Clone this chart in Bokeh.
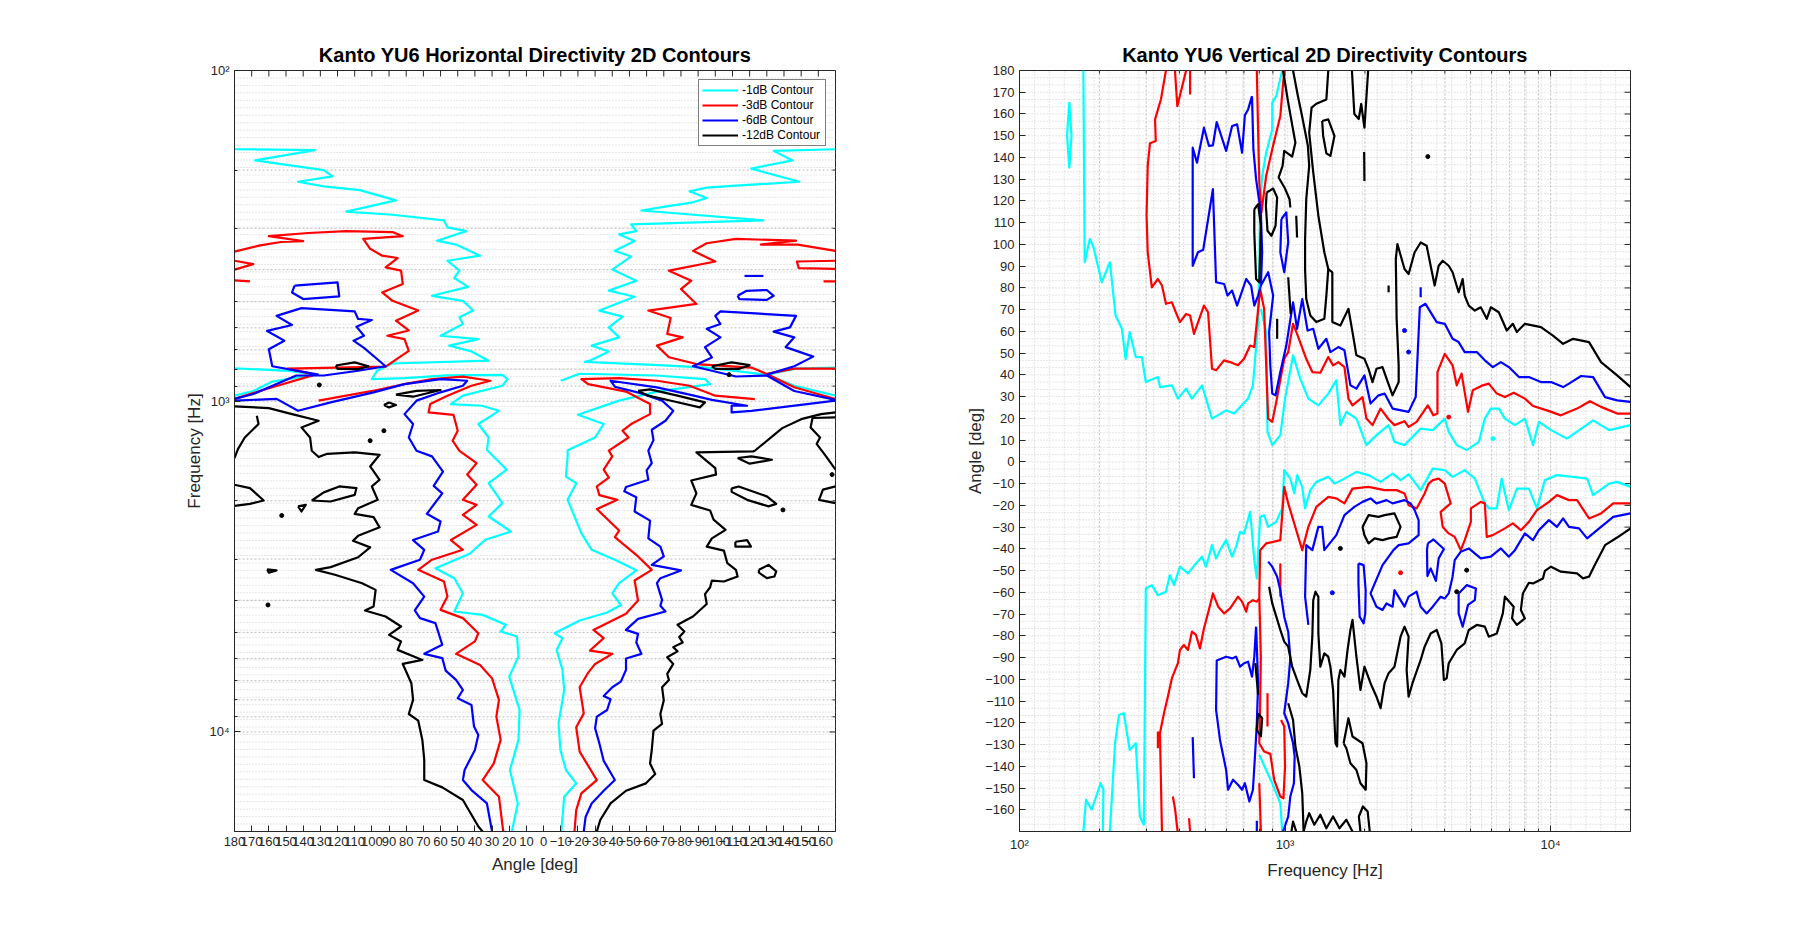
import numpy as np
from bokeh.plotting import figure
from bokeh.layouts import row
from bokeh.models import Range1d, FixedTicker, Legend, LegendItem
from bokeh.embed import file_html
from bokeh.resources import INLINE

FONT = "Liberation Sans"
TXT = "#262626"
LEVEL_LABELS = ["-1dB Contour", "-3dB Contour", "-6dB Contour", "-12dB Contour"]
LEVEL_COLORS = ["#00FFFF", "#FF0000", "#0000FF", "#000000"]

# ---------------- Horizontal directivity contours: (angle deg, frequency Hz) ----------------
H_CYAN_1 = [(180,173),(133,174),(168,187),(128,200),(123,209),(143,217),(128,224),(107,230),(86,247),(115,267),
            (88,273),(58,284),(56,298),(45,306),(62,327),(51,336),(37,363),(56,376),(49,403),(52,424),(44,451),
            (65,480),(47,497),(41,532),(49,557),(47,584),(60,634),(38,649),(55,679),(42,707),(32,754),(88,769),
            (97,809),(100,857),(81,851),(56,835),(24,832),(21,857),(24,898),(47,962),(54,1020),(36,1032),(26,1069),
            (38,1172),(32,1287),(33,1405),(21.5,1611),(32,1769),(24,2033),(32,2231),(19,2478),(34,2624),(43,2893),
            (63,3198),(52,3428),(47,3806),(52,4323),(35.5,4426),(22,4742),(25,4968),(15.5,5143),(14.6,5914),
            (20,6804),(14,8574),(14.6,10570),(19.6,13030),(15,16450),(18.5,20000)]
H_CYAN_2 = [(180,795),(149,809),(133,831),(158,872),(169,931),(180,962)]
H_CYAN_3 = [(-170,173),(-134,175),(-145,187),(-121,198),(-149,217),(-112,223),(-95,226),(-85,232),(-95,243),
            (-86,251),(-69,259),(-57,265),(-128,284),(-51,292),(-54,306),(-44,313),(-53,328),(-41.5,351),(-51,365),
            (-40,400),(-54,432),(-38,463),(-53,483),(-32.5,532),(-46,555),(-38,598),(-44,641),(-28,679),(-38,707),
            (-27,754),(-24,760),(-64,776),(-95,791),(-130,831),(-147,797),(-170,791)]
H_CYAN_4 = [(-130,831),(-146,898),(-170,962)]
H_CYAN_5 = [(-10,867),(-21,826),(-66,836),(-94,857),(-97,888),(-66,935),(-44,996),(-20,1099),(-35,1172),(-30,1287),
            (-14,1407),(-14,1468),(-13,1690),(-19,1769),(-14,1987),(-22,2506),(-28,2814),(-41.5,3015),(-54,3245),
            (-44,3550),(-40,3813),(-45,4130),(-37,4352),(-21,4605),(-6.4,5029),(-11,5206),(-7.6,5648),(-11,6492),
            (-12,7466),(-8.7,9413),(-9.8,11340),(-13,13030),(-19,14303),(-12,15700),(-10.3,20000)]

H_RED_1 = [(180,353),(165,338),(153,330),(140,328),(160,317),(137,310),(115,306),(88,308),(82,317),(105,323),
           (101,346),(94,363),(85,369),(92,394),(83,403),(82,442),(94,469),(88,497),(73,532),(86,571),(78.5,611),
           (91,634),(81,649),(78.5,704),(92,786),(149,797),(133,831),(160,914),(180,984)]
H_RED_2 = [(131,996),(115,962),(97,925),(81,888),(65,857),(47,843),(31,867),(42,898),(56,962),(66,1020),(67,1081),
           (52.5,1099),(50,1228),(53,1316),(49,1412),(39,1539),(44.5,1667),(39,1789),(47,1987),(39,2058),(47,2206),
           (39,2365),(54,2629),(47,2814),(65,3015),(73,3235),(58,3511),(56,3897),(60,4274),(47,4528),(38,5029),
           (40,5325),(51,5806),(37,6270),(30,6887),(26,8002),(27.5,8990),(25,10570),(29,12450),(35.5,13980),
           (26,15700),(23.5,20000)]
H_RED_3 = [(180,376),(169,385),(180,400)]
H_RED_4 = [(180,431),(171,434)]
H_RED_5 = [(-170,351),(-148,336),(-126.5,336),(-147,327),(-112,323),(-95,333),(-87,351),(-100,378),(-73,403),
           (-86,432),(-80,458),(-89,508),(-61,532),(-74,560),(-72,626),(-81,641),(-66,679),(-73,736),(-89,772),
           (-121,791),(-130,827),(-146,797),(-170,797)]
H_RED_6 = [(-130,827),(-146,907),(-170,985)]
H_RED_7 = [(-123,985),(-100,962),(-85,898),(-66,867),(-44,851),(-22,857),(-26,888),(-48,935),(-62,1020),(-62,1094),
           (-51,1172),(-46,1228),(-49.5,1287),(-38,1410),(-40,1468),(-35,1611),(-38,1702),(-31,1810),(-32.5,1922),
           (-43,1987),(-31,2119),(-44,2461),(-41.5,2576),(-55,2947),(-63,3235),(-53,3485),(-55,4005),(-48,4392),
           (-29,4914),(-35,5206),(-27,5674),(-40,5806),(-30,6228),(-26,6614),(-21,7325),(-23.4,8786),(-19,9680),
           (-21,11470),(-31,13980),(-22,15340),(-19,17230),(-18,20000)]
H_RED_8 = [(-170,376),(-147.5,378),(-148.6,396),(-170,398)]
H_RED_9 = [(-163,434),(-170,434)]

H_BLUE_1 = [(145,447),(120,437),(119,482),(140,491),(146.5,469),(145,447)]
H_BLUE_2 = [(180,984),(169,951),(144,836),(128,836),(108,809),(92,784),(104.6,690),(110.7,656),(104.6,634),(109,595),
            (100,568),(108,564),(110,535),(141,523),(155.5,552),(146.5,588),(161,613),(151,656),(160,696),(158,784),
            (131,831)]
H_BLUE_3 = [(180,996),(155.5,984),(143,1069),(124,1008),(99,940),(81,888),(60,857),(44.5,867),(47,898),(60,940),
            (74,996),(81,1094),(76,1172),(78.5,1287),(74,1412),(65,1468),(58.6,1633),(64,1802),(59,1900),(68,2190),
            (60,2310),(61.5,2477),(76,2629),(69.5,2814),(72,3015),(89,3235),(76,3550),(69.5,3897),(75,4292),(72,4528),
            (63,4688),(59,5450),(69.5,5806),(59,5983),(57,6525),(51,6962),(47,7466),(50,7911),(42,8286),(40.5,9634),
            (38,10210),(40,11340),(46,13030),(47,13980),(42,14990),(33,16450),(30,20000)]
H_BLUE_4 = [(-117,418),(-128,418)]
H_BLUE_5 = [(-113,480),(-118,464),(-130,461),(-134,480),(-130,494),(-114,491),(-113,480)]
H_BLUE_6 = [(-170,991),(-146,931),(-130,836),(-112,842),(-87,784),(-98,737),(-94,686),(-103,641),(-95,604),(-103,584),
            (-100,552),(-103,535),(-147,552),(-143.5,598),(-134,616),(-146,641),(-141,686),(-157,733),(-146,784),
            (-130,831)]
H_BLUE_7 = [(-170,996),(-121,1069),(-109.5,1081),(-109.5,1032),(-118.5,1032),(-98,991),(-85,955),(-66,908),(-39,867),
            (-41.5,904),(-57,947),(-69,996),(-75.5,1069),(-71,1146),(-63,1220),(-64,1311),(-61,1412),(-63,1539),
            (-60,1619),(-61,1728),(-48,1817),(-47,1873),(-54,1950),(-53,2155),(-62,2296),(-61,2598),(-68,2753),
            (-70,2947),(-63,3125),(-80,3248),(-68,3428),(-66,3550),(-69,3987),(-68,4155),(-71,4323),(-55,4550),
            (-48,4914),(-55,5052),(-54,5363),(-57,5806),(-48,5995),(-48,6492),(-45,7043),(-40,7325),(-35,7786),
            (-39,7966),(-37,8585),(-31,8990),(-30,9746),(-32.5,10830),(-35,12220),(-41.5,13980),(-35,15060),
            (-28,16450),(-24.5,18040),(-23.4,20000)]

H_BLACK_1 = [(121,780),(110,763),(102,784),(108,800),(120,798),(121,780)]
H_BLACK_2 = [(86,955),(74,930),(60,925),(76,969),(86,955)]
H_BLACK_3 = [(93,1027),(90,1009),(86,1027),(90,1044),(93,1027)]
H_BLACK_4 = [(180,1037),(160,1049),(146.5,1094),(131,1146),(141,1200),(136,1287),(135,1412),(131,1475),(126,1442),
             (110,1428),(95.5,1452),(101,1575),(95.5,1728),(100,1810),(96.6,1987),(108,2106),(110,2190),(99,2242),
             (95.5,2406),(108,2553),(111,2643),(101,2766),(108,2963),(124,3175),(132.6,3235),(121.5,3348),
             (105.7,3550),(97.8,3719),(99,4175),(104,4292),(92,4478),(83,4800),(90,5087),(83,5325),(85,5648),
             (70.6,6057),(82,6228),(77,7125),(76,8002),(78.5,8826),(73,9244),(70.6,10570),(69.5,12140),(69.5,13980),
             (59,14710),(47,16060),(38,19310),(35.5,20000)]
H_BLACK_5 = [(167,1106),(166,1172),(174,1287),(178,1396),(180,1487)]
H_BLACK_6 = [(180,1789),(171,1831),(163,1996),(171,2043),(180,2071)]
H_BLACK_7 = [(135,1996),(128,1886),(119,1810),(109,1831),(110,1920),(124,2010),(135,1996)]
H_BLACK_8 = [(143,2080),(138.5,2057),(141,2155),(143,2080)]
H_BLACK_9 = [(161,3222),(155.5,3248),(160,3300),(161,3222)]
H_BLACK_10 = [(-98,784),(-109.5,763),(-120,778),(-114,798),(-100,798),(-98,784)]
H_BLACK_11 = [(-55,931),(-62,921),(-78,962),(-94,1008),(-91,1044),(-75.5,1000),(-61,962),(-55,931)]
H_BLACK_12 = [(-170,1081),(-161.6,1094),(-150,1133),(-139,1206),(-123,1412),(-122,1418),(-89,1428),(-100,1593),
              (-100.4,1667),(-86,1737),(-89,1900),(-86,2058),(-97,2141),(-99,2281),(-106,2448),(-98,2598),(-95,2753),
              (-105,2830),(-107,3088),(-112,3235),(-113,3389),(-105,3509),(-98,3485),(-97,3652),(-94,3832),(-95,4103),
              (-87,4478),(-78,4742),(-82,4968),(-79,5167),(-81,5363),(-75.5,5540),(-78,5705),(-72,5946),(-75.5,6228),
              (-72,6677),(-73,6962),(-69,7325),(-70,8038),(-68,8826),(-69,9460),(-64,9910),(-63,11340),(-62,12450),
              (-65,13400),(-59.6,14303),(-48,15060),(-39,16450),(-33,18460),(-31,20000)]
H_BLACK_13 = [(-170,1119),(-156.6,1124),(-155.5,1200),(-161,1287),(-159,1346),(-164.5,1468),(-170,1611)]
H_BLACK_14 = [(-113,1485),(-120,1545),(-133,1503),(-121,1468),(-113,1485)]
H_BLACK_15 = [(-109.5,1834),(-113.6,1810),(-130,1940),(-135.5,2043),(-131,2080),(-118.5,1987),(-109.5,1880),(-109.5,1834)]
H_BLACK_16 = [(-170,1810),(-162.7,1850),(-160.4,1987),(-170,2033)]
H_BLACK_17 = [(-111.7,2660),(-118.5,2629),(-120.8,2753),(-111.7,2753),(-111.7,2660)]
H_BLACK_18 = [(-125.4,3235),(-131,3125),(-135.5,3270),(-134.4,3389),(-130,3428),(-125.4,3300),(-125.4,3235)]
H_BLACK_DOTS = [(130.6,893),(93,1228),(101,1316),(152.5,2216),(160.5,4130),(-108,831),(-168,1667),(-139.4,2131)]

H_CYAN = [H_CYAN_1, H_CYAN_2, H_CYAN_3, H_CYAN_4, H_CYAN_5]
H_RED = [H_RED_1, H_RED_2, H_RED_3, H_RED_4, H_RED_5, H_RED_6, H_RED_7, H_RED_8, H_RED_9]
H_BLUE = [H_BLUE_1, H_BLUE_2, H_BLUE_3, H_BLUE_4, H_BLUE_5, H_BLUE_6, H_BLUE_7]
H_BLACK = [H_BLACK_1, H_BLACK_2, H_BLACK_3, H_BLACK_4, H_BLACK_5, H_BLACK_6, H_BLACK_7, H_BLACK_8, H_BLACK_9,
           H_BLACK_10, H_BLACK_11, H_BLACK_12, H_BLACK_13, H_BLACK_14, H_BLACK_15, H_BLACK_16, H_BLACK_17, H_BLACK_18]

# ---------------- Vertical directivity contours: (frequency Hz, angle deg) ----------------
V_CYAN_1 = [(174,180),(176,91.8),(184,102.5),(190,98.7),(204,82.6),(219,91.8),(230,67.3),(243,61.2),(251,47.4),
            (260,59.7),(274,48.2),(289,48.2),(299,36.7),(332,39.0),(338,34.4),(375,35.2),(395,29.1),(424,33.7),
            (446,29.1),(487,35.2),(531,19.9),(600,23.7),(643,22.2),(726,29.1),(757,35.2),(792,64.3),(800,90.2),
            (806,117.8),(820,131.5),(849,142.2),(895,152.9),(895,165.2),(926,168.2),(976,180)]
V_CYAN_2 = [(811,70.4),(849,59.7),(859,13.8),(896,7.7),(960,12.3),(1000,29.1),(1072,49.0),(1141,38.3),(1224,29.1),
            (1335,26.0),(1455,31.4),(1560,37.5),(1616,16.9),(1702,23.0),(1857,19.9),(2026,7.7),(2210,12.3),
            (2455,16.9),(2583,9.2),(2818,7.7),(3242,15.3),(3600,14.6),(3995,19.9),(4135,13.8),(4432,7.7),(4830,5.4),
            (5372,9.2),(5654,19.9),(5955,24.5),(6383,24.5),(6730,19.9),(7340,16.9),(8005,19.9),(8585,7.7),
            (9040,18.4),(10040,14.6),(11530,10.7),(14460,19.1),(16620,14.6),(20000,16.9)]
V_CYAN_3 = [(154,165.5),(157,150),(154,135.3),(151,150),(154,165.5)]
V_CYAN_4 = [(20000,-11.5),(17810,-9.2),(16620,-10.0),(14460,-15.3),(13730,-7.7),(12160,-6.9),(10570,-6.1),(9520,-8.4),
            (8885,-21.4),(8285,-12.3),(7465,-12.3),(6965,-22.2),(6545,-7.7),(6275,-21.4),(5850,-21.4),(5654,-19.1),
            (5185,-7.7),(4750,-3.8),(4276,-6.9),(3995,-3.8),(3600,-3.1),(3242,-13.0),(2920,-5.7),(2723,-8.4),
            (2541,-5.4),(2290,-9.2),(2063,-6.1),(1857,-4.6),(1674,-7.7),(1535,-10.0),(1455,-6.9),(1312,-9.2),
            (1245,-13.0),(1190,-21.4),(1161,-11.5),(1110,-6.1),(1084,-14.5),(1047,-7.7),(993,-3.8),(976,-21.4),
            (926,-27.6),(864,-29.9),(834,-24.5),(806,-25.3),(783,-53.6),(766,-45.2),(739,-23.0),(701,-32.9),
            (677,-32.2),(654,-39.1),(632,-43.6),(600,-36.0),(569,-40.6),(550,-44.4),(531,-38.3),(504,-48.2),
            (487,-43.6),(462,-46.7),(431,-51.3),(402,-48.2),(382,-56.7),(368,-52.1),(356,-59.7),(332,-61.3),
            (315,-56.7),(299,-58.2),(294,-166.9),(284,-163.1),(274,-129.4),(260,-132.5),(247,-115.6),(237,-116.4),
            (229,-129.4),(219,-170)]
V_CYAN_5 = [(206,-170),(207,-150.8),(202,-147.8),(187,-160.0),(178,-155.4),(174,-170)]
V_CYAN_6 = [(800,-134.8),(849,-141.7),(895,-147.8),(960,-157.0),(976,-170)]
V_CYAN_DOTS = [(6062,10.7)]

V_RED_1 = [(356,180),(341,166.8),(324,157.5),(326,147.6),(310,146.5),(304,136.2),(301,113.2),(304,96.4),(315,80.3),
           (332,84.1),(344,81.1),(356,72.7),(375,73.4),(388,68.8),(402,64.3),(424,68.0),(439,67.3),(454,58.9),
           (495,71.9),(513,68.8),(531,42.8),(550,42.1),(589,46.7),(621,45.9),(665,44.4),(701,47.4),(739,53.5),
           (766,52.8),(806,79.5),(834,70.4),(864,19.9),(895,18.4),(927,27.6),(993,47.4),(1028,50.5),(1072,63.5),
           (1110,58.9),(1202,47.4),(1267,41.3),(1358,41.0),(1455,48.2),(1517,44.4),(1588,45.9),(1674,43.6),
           (1733,29.1),(1795,26.0),(1958,29.8),(2026,19.9),(2135,16.9),(2290,24.5),(2455,19.6),(2583,16.9),
           (2818,18.7),(2920,16.1),(3130,18.4),(3450,26.0),(3622,21.4),(3750,22.2),(3750,41.3),(3995,49.7),
           (4276,44.4),(4432,35.2),(4622,40.6),(4888,23.0),(5095,32.9),(5556,35.2),(5850,36.0),(6275,31.4),
           (6730,29.8),(7265,31.8),(8005,29.1),(8585,25.7),(9690,23.7),(10940,21.4),(12580,24.5),(14070,27.9),
           (15490,25.3),(17810,22.2),(20000,22.2)]
V_RED_2 = [(783,180),(792,151.4),(800,128.5),(815,114.7),(849,131.5),(895,143.8),(960,159.1),(993,180)]
V_RED_3 = [(385,180),(393,163.6),(424,180)]
V_RED_4 = [(439,180),(439,169.0)]
V_RED_5 = [(20000,-19.1),(17220,-19.1),(15490,-23.7),(13960,-26.0),(12580,-17.6),(11730,-17.6),(10570,-15.3),
           (9860,-18.4),(8885,-22.2),(8285,-27.6),(7730,-31.4),(7210,-28.3),(6730,-30.6),(6062,-33.7),(5750,-34.5),
           (5654,-19.1),(5460,-18.4),(5010,-21.4),(5010,-27.6),(4750,-36.0),(4590,-40.6),(4355,-34.5),(4135,-32.9),
           (3925,-29.9),(3855,-23.0),(4205,-19.1),(3995,-10.0),(3790,-7.7),(3600,-8.4),(3475,-10.0),(3355,-14.5),
           (3130,-21.4),(2920,-19.9),(2818,-14.5),(2632,-13.0),(2371,-13.0),(2063,-11.5),(1795,-12.3),(1674,-19.1),
           (1560,-16.8),(1455,-16.1),(1312,-20.7),(1224,-29.9),(1161,-40.6),(1102,-31.4),(1028,-19.1),(993,-11.5),
           (960,-36.0),(849,-37.5),(806,-40.6),(800,-62.0),(811,-89.6),(806,-111.0),(800,-129.4),(834,-133.2),
           (880,-134.3),(910,-146.2),(960,-153.9),(986,-154.7),(1000,-140.1),(993,-121.7),(966,-118.7)]
V_RED_6 = [(344,-170),(338,-124.8),(350,-115.6),(362,-108.0),(375,-99.5),(395,-92.6),(402,-86.5),(416,-84.2),
           (431,-86.5),(446,-78.1),(462,-79.6),(478,-85.8),(495,-76.6),(522,-65.9),(535,-60.5),(560,-66.6),
           (590,-69.7),(621,-67.4),(665,-62.0),(689,-64.3),(714,-68.9),(726,-65.1),(757,-63.6),(783,-64.3),(800,-62.8)]
V_RED_7 = [(960,-46.7),(960,-62.0)]
V_RED_8 = [(332,-124.0),(332,-131.7)]
V_RED_9 = [(378,-153.9),(385,-159.3),(394,-170)]
V_RED_10 = [(435,-163.9),(439,-170)]
V_RED_11 = [(859,-106.4),(859,-121.7)]
V_RED_12 = [(800,-147.8),(811,-170)]
V_RED_DOTS = [(4135,20.6),(2723,-51.0)]

V_BLUE_1 = [(751,168.2),(760,143.8),(778,130.0),(811,114.7),(820,96.4),(811,81.1),(792,76.5),(766,71.9),(745,81.1),
            (714,84.1),(660,71.9),(632,78.8),(607,76.5),(590,81.8),(550,82.6),(535,125.4),(492,97.6),(470,96.4),
            (449,90.2),(449,144.5),(466,137.6),(495,153.7),(517,145.3),(535,145.6),(553,156.3),(600,143.0),
            (632,154.5),(660,155.2),(689,142.2),(706,159.4),(726,162.1),(751,168.2)]
V_BLUE_2 = [(811,81.1),(864,87.2),(902,76.5),(871,59.7),(880,44.4),(895,31.4),(921,30.6),(960,41.3),(1011,53.5),
            (1072,73.4),(1110,61.2),(1161,74.9),(1216,60.4),(1277,61.2),(1335,52.0),(1431,56.6),(1482,50.5),
            (1588,52.8),(1674,51.3),(1763,35.2),(1857,33.7),(1991,39.8),(2099,26.8),(2250,30.6),(2371,31.4),
            (2541,24.5),(2920,23.0),(3105,29.8),(3218,71.1),(3380,72.7),(3725,64.3),(3995,63.5),(4276,56.6),
            (4506,55.1),(4750,50.5),(5275,50.5),(5654,46.7),(6062,43.6),(6500,45.9),(6965,43.6),(7600,39.0),
            (8285,39.0),(9200,36.7),(10040,36.7),(11150,34.4),(11730,36.0),(13030,39.5),(14460,39.0),(16040,29.8),
            (17810,28.3),(20000,27.6)]
V_BLUE_3 = [(969,111.7),(1011,114.7),(1028,101.0),(993,87.2),(960,96.4),(969,111.7)]
V_BLUE_4 = [(3242,80.3),(3242,75.7)]
V_BLUE_5 = [(20000,-23.7),(17220,-25.3),(14970,-31.4),(13730,-35.2),(12800,-30.6),(11730,-29.9),(11150,-26.0),
            (10570,-29.9),(9860,-26.8),(9040,-31.4),(8585,-36.0),(8005,-32.9),(7340,-40.6),(6965,-43.6),(6500,-39.8),
            (5955,-43.6),(5460,-44.4),(4920,-39.8),(4590,-41.3),(4355,-45.2),(4276,-52.8),(4135,-60.5),(3995,-62.8),
            (3855,-62.0),(3600,-66.6),(3415,-69.7),(3242,-66.6),(3130,-59.7),(2920,-62.0),(2818,-66.6),(2583,-59.0),
            (2541,-66.6),(2412,-65.1),(2329,-68.1),(2210,-66.6),(2099,-60.5),(2329,-47.5),(2560,-40.6),(2679,-38.3),
            (2920,-37.5),(3020,-36.0),(3185,-33.7),(3185,-26.8),(3077,-22.2),(2970,-19.1),(2818,-17.6),(2541,-19.1),
            (2412,-17.6),(2210,-19.1),(2099,-16.8),(1958,-18.4),(1824,-20.7),(1674,-24.5),(1560,-33.7),(1455,-38.3),
            (1406,-40.6),(1380,-29.9),(1335,-29.9),(1267,-40.6),(1202,-38.3),(1190,-62.0),(1224,-75.0)]
V_BLUE_6 = [(864,-45.9),(895,-48.2),(934,-52.8),(960,-59.0),(993,-71.2),(1028,-78.1),(1047,-90.4),(1028,-101.8),
            (993,-115.6),(1028,-120.2),(1072,-129.4),(1087,-135.5),(1080,-147.8),(1047,-153.9),(1028,-163.1),(983,-170)]
V_BLUE_7 = [(778,-75.8),(766,-89.6),(751,-98.8),(726,-91.9),(701,-92.6),(677,-94.2),(654,-89.6),(632,-90.4),
            (600,-89.6),(553,-91.4),(550,-114.1),(569,-127.9),(600,-141.7),(610,-150.8),(637,-146.2),(665,-148.5),
            (689,-150.8),(706,-147.8),(734,-156.2),(757,-150.8),(773,-132.5),(783,-120.2),(792,-101.8),(778,-75.8)]
V_BLUE_8 = [(449,-126.6),(454,-145.5)]
V_BLUE_9 = [(783,-165),(783,-170)]
V_BLUE_10 = [(3450,-37.5),(3622,-35.7),(3965,-40.1),(3790,-44.4),(3700,-54.7),(3535,-49.0),(3437,-52.5),(3425,-40.6),
             (3450,-37.5)]
V_BLUE_11 = [(4506,-60.5),(4830,-56.7),(5235,-58.2),(5185,-63.6),(4888,-65.8),(4666,-75.8),(4506,-69.7),(4506,-60.5)]
V_BLUE_12 = [(1890,-46.7),(1977,-47.5),(2012,-59.0),(2005,-69.7),(1977,-74.3),(1910,-71.2),(1890,-55.9),(1890,-46.7)]
V_BLUE_DOTS = [(2818,60.4),(2920,50.5),(1507,-60.2)]

V_BLACK_1 = [(983,180),(1028,165.2),(1094,146.8),(1064,140.4),(993,143.0),(979,136.1),(946,130.8),(1000,125.7),
             (1040,120.8),(1047,117.0)]
V_BLACK_2 = [(853,123.9),(902,125.7),(934,121.6),(921,108.6),(889,104.0),(859,106.3),(847,117.8),(853,123.9)]
V_BLACK_3 = [(766,116.2),(792,118.5),(811,108.6),(800,82.6),(778,84.1),(766,105.5),(766,116.2)]
V_BLACK_4 = [(1072,180),(1117,168.5),(1161,158.6),(1219,145.4),(1233,136.1),(1202,120.8),(1190,102.5),(1190,88.4),
             (1202,75.0),(1245,67.3),(1312,64.3),(1406,65.8),(1431,76.5),(1455,88.7),(1507,87.2),(1507,64.3),
             (1616,62.7),(1733,70.4),(1795,59.7),(1857,49.0),(1991,47.4),(2063,42.8),(2135,36.7),(2210,42.8),
             (2329,43.6),(2412,38.3),(2541,30.6),(2679,36.7),(2679,44.4),(2632,65.8),(2613,93.3),(2650,100.2),
             (2818,88.7),(2920,86.4),(3077,96.4),(3242,100.9),(3415,99.4),(3535,90.2),(3660,81.1),(3790,90.2),
             (3925,92.5),(4135,90.2),(4276,87.2),(4506,78.0),(4666,84.1),(4750,76.5),(4920,71.9),(5185,69.6),
             (5460,71.1),(5750,65.8),(5955,71.1),(6383,68.8),(6840,60.4),(7210,63.5),(7465,59.7),(8005,63.5),
             (9200,62.0),(10210,58.1),(11150,54.3),(12160,56.6),(13960,55.1),(15490,45.9),(17810,39.8),(20000,34.4)]
V_BLACK_5 = [(1455,180),(1431,166.7),(1312,164.7),(1259,162.9),(1233,151.4),(1277,133.1),(1335,113.2),(1406,96.4),
             (1455,88.7)]
V_BLACK_6 = [(1380,156.8),(1455,157.5),(1535,149.9),(1482,140.7),(1431,141.9),(1392,149.9),(1380,156.8)]
V_BLACK_7 = [(1786,180),(1824,160.0),(1895,157.7),(1936,164.6),(1991,153.7),(2056,180)]
V_BLACK_8 = [(1986,142.5),(1991,129.2)]
V_BLACK_9 = [(1102,113.2),(1110,103.2)]
V_BLACK_10 = [(1028,84.9),(1050,68.0)]
V_BLACK_11 = [(934,65.8),(934,56.6)]
V_BLACK_12 = [(2455,81.1),(2455,78.0)]
V_BLACK_13 = [(20000,-30.6),(17810,-34.8),(16040,-38.3),(14560,-48.2),(13960,-52.8),(13250,-53.6),(12580,-51.3),
              (10940,-50.5),(10040,-48.2),(9520,-50.1),(9360,-53.6),(8585,-55.9),(8285,-55.6),(7865,-60.5),(7730,-68.1),
              (8005,-72.0),(7465,-75.0),(7160,-72.0),(7265,-66.6),(6730,-62.0),(6610,-69.7),(6275,-78.9),(5850,-80.4),
              (5654,-75.8),(5275,-75.0),(4920,-77.3),(4750,-83.5),(4432,-86.5),(4135,-92.6),(4063,-99.5),(3965,-100.3),
              (3880,-83.5),(3725,-77.3),(3535,-78.9),(3355,-85.0),(3242,-91.1),(3020,-101.8),(2920,-108.0),(2870,-95.7),
              (2920,-80.4),(2818,-75.8),(2723,-80.4),(2583,-94.2),(2455,-97.2),(2371,-101.8),(2290,-113.3),(2210,-108.0),
              (2099,-101.8),(1991,-94.2),(1923,-104.9),(1857,-89.6),(1795,-72.7),(1763,-77.3),(1720,-86.5),(1674,-98.8),
              (1616,-95.7),(1588,-100.3),(1571,-130.9),(1549,-129.4),(1517,-104.9),(1482,-94.2),(1455,-89.6),
              (1406,-88.1),(1358,-94.2),(1335,-78.9),(1335,-62.0),(1302,-59.7),(1277,-63.6),(1267,-80.4),(1245,-95.7),
              (1202,-108.0),(1161,-106.4),(1122,-101.8),(1064,-94.2),(1028,-85.0),(993,-82.7),(960,-77.3),(927,-71.2),
              (895,-65.1),(871,-57.4)]
V_BLACK_14 = [(773,-92.6),(792,-107.2)]
V_BLACK_15 = [(792,-115.6),(820,-117.9),(811,-126.3),(783,-123.3),(792,-115.6)]
V_BLACK_16 = [(1028,-111.0),(1072,-118.7),(1094,-130.9),(1132,-140.1),(1161,-152.4),(1175,-170)]
V_BLACK_17 = [(1662,-129.4),(1733,-117.9),(1795,-126.3),(1958,-129.4),(2026,-138.6),(2013,-150.8),(1923,-147.8),
              (1857,-141.7),(1763,-138.6),(1702,-131.7),(1662,-129.4)]
V_BLACK_18 = [(1175,-170),(1202,-165.4),(1233,-161.6),(1289,-166.9),(1358,-162.3),(1431,-168.5),(1517,-163.1),
              (1603,-168.5),(1702,-164.6),(1795,-170)]
V_BLACK_19 = [(1923,-170),(1897,-163.1),(1965,-158.5),(2047,-160.8),(2085,-170)]
V_BLACK_20 = [(1057,-170),(1072,-165.4),(1102,-170)]
V_BLACK_21 = [(1958,-29.9),(2063,-24.5),(2250,-25.3),(2371,-24.5),(2583,-23.7),(2723,-29.9),(2632,-34.5),(2455,-35.2),
              (2329,-36.0),(2174,-35.2),(2063,-37.5),(1991,-33.7),(1958,-29.9)]
V_BLACK_DOTS = [(3450,140.4),(1616,-39.8),(4830,-49.8),(4430,-59.7)]

V_CYAN = [V_CYAN_1, V_CYAN_2, V_CYAN_3, V_CYAN_4, V_CYAN_5, V_CYAN_6]
V_RED = [V_RED_1, V_RED_2, V_RED_3, V_RED_4, V_RED_5, V_RED_6, V_RED_7, V_RED_8, V_RED_9, V_RED_10, V_RED_11, V_RED_12]
V_BLUE = [V_BLUE_1, V_BLUE_2, V_BLUE_3, V_BLUE_4, V_BLUE_5, V_BLUE_6, V_BLUE_7, V_BLUE_8, V_BLUE_9, V_BLUE_10,
          V_BLUE_11, V_BLUE_12]
V_BLACK = [V_BLACK_1, V_BLACK_2, V_BLACK_3, V_BLACK_4, V_BLACK_5, V_BLACK_6, V_BLACK_7, V_BLACK_8, V_BLACK_9,
           V_BLACK_10, V_BLACK_11, V_BLACK_12, V_BLACK_13, V_BLACK_14, V_BLACK_15, V_BLACK_16, V_BLACK_17,
           V_BLACK_18, V_BLACK_19, V_BLACK_20, V_BLACK_21]

ANGLE_TICKS = list(range(-160, 181, 10))
FREQ_MAJOR = [100, 1000, 10000]
FREQ_MINOR = [200, 300, 400, 500, 600, 700, 800, 900, 2000, 3000, 4000, 5000, 6000, 7000, 8000, 9000, 20000]
FREQ_LABELS = {100: "10\u00b2", 1000: "10\u00b3", 10000: "10\u2074"}

FW1, FW2, FH = 601, 611, 761
LOGSPAN = np.log10(20000) - 2.0


def style_axis(ax, label_standoff=6):
    ax.major_tick_in = 6
    ax.major_tick_out = 0
    ax.minor_tick_in = 3
    ax.minor_tick_out = 0
    ax.axis_line_color = TXT
    ax.major_tick_line_color = TXT
    ax.minor_tick_line_color = TXT
    ax.major_label_text_font = FONT
    ax.major_label_text_font_size = "13px"
    ax.major_label_text_color = TXT
    ax.major_label_standoff = 5
    ax.axis_label_text_font = FONT
    ax.axis_label_text_font_size = "17px"
    ax.axis_label_text_font_style = "normal"
    ax.axis_label_text_color = TXT
    ax.axis_label_standoff = label_standoff


def dotted_grid(p, horizontal, positions, lo, hi, color, dash):
    if horizontal:
        xs = [[lo, hi] for _ in positions]
        ys = [[v, v] for v in positions]
    else:
        xs = [[v, v] for v in positions]
        ys = [[lo, hi] for _ in positions]
    p.multi_line(xs=xs, ys=ys, line_color=color, line_width=1, line_dash=dash)


def style_fig(p, title):
    p.title.text = title
    p.title.align = "center"
    p.title.text_font = FONT
    p.title.text_font_size = "20px"
    p.title.text_font_style = "bold"
    p.title.text_color = "black"
    p.outline_line_color = TXT
    p.outline_line_width = 1
    p.xgrid.grid_line_color = None
    p.ygrid.grid_line_color = None
    p.background_fill_color = "white"
    p.border_fill_color = "white"


# ---------------- Left: horizontal ----------------
p1 = figure(frame_width=FW1, frame_height=FH, x_range=Range1d(180, -170), y_range=Range1d(20000, 100),
            y_axis_type="log", output_backend="svg", toolbar_location=None,
            min_border_left=234, min_border_right=60, min_border_top=70, min_border_bottom=58)
style_fig(p1, "Kanto YU6 Horizontal Directivity 2D Contours")

dense_y = list(np.logspace(2, np.log10(20000), 103)[1:-1])
dotted_grid(p1, True, dense_y, 180, -170, "#cccccc", "1 2")
dotted_grid(p1, True, FREQ_MINOR[:-1] + [1000, 10000], 180, -170, "#bdbdbd", "2 2")

p1.xaxis.ticker = FixedTicker(ticks=ANGLE_TICKS)
p1.yaxis.ticker = FixedTicker(ticks=FREQ_MAJOR, minor_ticks=FREQ_MINOR)
p1.yaxis.major_label_overrides = FREQ_LABELS
p1.xaxis.axis_label = "Angle [deg]"
p1.yaxis.axis_label = "Frequency [Hz]"
style_axis(p1.xaxis[0])
style_axis(p1.yaxis[0], label_standoff=2)
p1.xaxis.minor_tick_line_color = None

# mirrored inward ticks on top and right edges
t_top = 10 ** (2 + 6.0 / FH * LOGSPAN)
p1.segment(x0=ANGLE_TICKS, y0=[100] * len(ANGLE_TICKS), x1=ANGLE_TICKS, y1=[t_top] * len(ANGLE_TICKS),
           line_color=TXT, line_width=1)
fr_all = FREQ_MAJOR + FREQ_MINOR
fr_len = [6.0] * len(FREQ_MAJOR) + [3.0] * len(FREQ_MINOR)
p1.segment(x0=[-170] * len(fr_all), y0=fr_all, x1=[-170 + L / FW1 * 350 for L in fr_len], y1=fr_all,
           line_color=TXT, line_width=1)

legend_items = []
for segs, color, label in zip([H_CYAN, H_RED, H_BLUE, H_BLACK], LEVEL_COLORS, LEVEL_LABELS):
    xs = [[pt[0] for pt in s] for s in segs]
    ys = [[pt[1] for pt in s] for s in segs]
    r = p1.multi_line(xs=xs, ys=ys, line_color=color, line_width=2.2, line_join="round")
    legend_items.append(LegendItem(label=label, renderers=[r]))
p1.scatter([d[0] for d in H_BLACK_DOTS], [d[1] for d in H_BLACK_DOTS], size=4, color="#000000")

legend = Legend(items=legend_items, location="top_right")
legend.border_line_color = "black"
legend.border_line_width = 1
legend.label_text_font = FONT
legend.label_text_font_size = "12px"
legend.label_text_color = "black"
legend.glyph_width = 36
legend.glyph_height = 14
legend.label_height = 14
legend.label_width = 80
legend.label_standoff = 4
legend.spacing = 1
legend.padding = 3
legend.margin = 9
legend.background_fill_color = "white"
p1.add_layout(legend)

# ---------------- Right: vertical ----------------
p2 = figure(frame_width=FW2, frame_height=FH, x_range=Range1d(100, 20000), y_range=Range1d(-170, 180),
            x_axis_type="log", output_backend="svg", toolbar_location=None,
            min_border_left=124, min_border_right=40, min_border_top=70, min_border_bottom=58)
style_fig(p2, "Kanto YU6 Vertical 2D Directivity Contours")

dense_a = list(np.linspace(-170, 180, 106)[1:-1])
dense_f = list(np.logspace(2, np.log10(20000), 42)[1:-1])
dotted_grid(p2, True, dense_a, 100, 20000, "#cccccc", "1 2")
dotted_grid(p2, False, dense_f, -170, 180, "#cccccc", "1 2")
dotted_grid(p2, False, FREQ_MINOR[:-1] + [1000, 10000], -170, 180, "#bdbdbd", "2 2")

p2.xaxis.ticker = FixedTicker(ticks=FREQ_MAJOR, minor_ticks=FREQ_MINOR)
p2.xaxis.major_label_overrides = FREQ_LABELS
p2.yaxis.ticker = FixedTicker(ticks=ANGLE_TICKS)
p2.xaxis.axis_label = "Frequency [Hz]"
p2.yaxis.axis_label = "Angle [deg]"
style_axis(p2.xaxis[0])
style_axis(p2.yaxis[0], label_standoff=-3)
p2.yaxis.minor_tick_line_color = None

f_top = [180 - L / FH * 350 for L in fr_len]
p2.segment(x0=fr_all, y0=[180] * len(fr_all), x1=fr_all, y1=f_top, line_color=TXT, line_width=1)
a_right = 10 ** (np.log10(20000) - 6.0 / FW2 * LOGSPAN)
p2.segment(x0=[20000] * len(ANGLE_TICKS), y0=ANGLE_TICKS, x1=[a_right] * len(ANGLE_TICKS), y1=ANGLE_TICKS,
           line_color=TXT, line_width=1)

for segs, dots, color in zip([V_CYAN, V_RED, V_BLUE, V_BLACK],
                             [V_CYAN_DOTS, V_RED_DOTS, V_BLUE_DOTS, V_BLACK_DOTS], LEVEL_COLORS):
    xs = [[pt[0] for pt in s] for s in segs]
    ys = [[pt[1] for pt in s] for s in segs]
    p2.multi_line(xs=xs, ys=ys, line_color=color, line_width=2.2, line_join="round")
    p2.scatter([d[0] for d in dots], [d[1] for d in dots], size=4, color=color)

layout = row(p1, p2)
open("out.html", "w").write(file_html(layout, INLINE))
